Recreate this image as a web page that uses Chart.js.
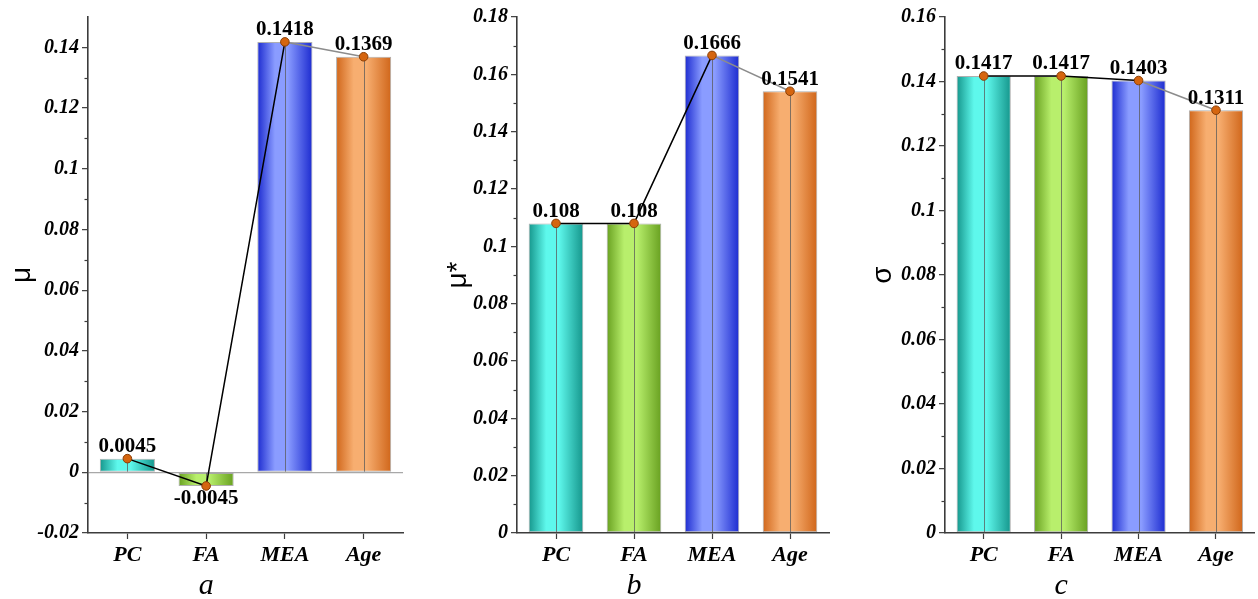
<!DOCTYPE html>
<html>
<head>
<meta charset="utf-8">
<script src="https://cdn.jsdelivr.net/npm/chart.js@4.4.1/dist/chart.umd.min.js"></script>
<style>
  html, body { margin:0; padding:0; background:#fff; overflow:hidden; width:1258px; height:599px; }
  .panel { position:absolute; top:0; width:420px; height:599px; }
  .panel canvas { display:block; }
</style>
</head>
<body>
<div class="panel" style="left:0px"><canvas id="ca" width="420" height="599"></canvas></div>
<div class="panel" style="left:420px"><canvas id="cb" width="420" height="599"></canvas></div>
<div class="panel" style="left:840px"><canvas id="cc" width="420" height="599"></canvas></div>
<script>
// ---------- data ----------
const categories = ['PC', 'FA', 'MEA', 'Age'];
const muValues = [0.0045, -0.0045, 0.1418, 0.1369];
const muStarValues = [0.108, 0.108, 0.1666, 0.1541];
const sigmaValues = [0.1417, 0.1417, 0.1403, 0.1311];
const muRange = [-0.02, 0.15];
const muStarRange = [0, 0.18];
const sigmaRange = [0, 0.16];
const tickStep = 0.02;
const panelLetters = ['a', 'b', 'c'];
const axisTitles = ['μ', 'μ*', 'σ'];

// ---------- styling ----------
const barDark = ['#15968c', '#68a020', '#1c2bd0', '#d0661a'];
const barLight = ['#5ef8ec', '#b8ef6c', '#8a9cff', '#f7ae70'];
const AXIS = '#3c3c3c';
const BAR_FRAC = 0.7;
const SERIF = '"Liberation Serif", "Times New Roman", serif';

function gradFor(ctx) {
  const chart = ctx.chart, i = ctx.dataIndex;
  const xs = chart.scales && chart.scales.x;
  if (!chart.chartArea || !xs || i === undefined) return barLight[i || 0];
  const cx = xs.getPixelForValue(i);
  const half = xs.width / categories.length * BAR_FRAC / 2;
  const g = chart.ctx.createLinearGradient(cx - half, 0, cx + half, 0);
  g.addColorStop(0, barDark[i]);
  g.addColorStop(0.32, barLight[i]);
  g.addColorStop(0.55, barLight[i]);
  g.addColorStop(1, barDark[i]);
  return g;
}

const decoPlugin = {
  id: 'deco',
  afterDatasetDraw(chart, args) {
    if (args.index !== 0) return;
    const c = chart.ctx;
    const meta = chart.getDatasetMeta(0);
    c.save();
    c.strokeStyle = 'rgba(90,90,90,0.75)';
    c.lineWidth = 1;
    meta.data.forEach(el => {
      const x = Math.round(el.x) + 0.5;
      c.beginPath();
      c.moveTo(x, el.y);
      c.lineTo(x, el.base);
      c.stroke();
    });
    c.restore();
  },
  afterDraw(chart, args, opts) {
    const c = chart.ctx;
    // minor ticks on y axis
    const ys = chart.scales.y;
    const ticks = ys.ticks.map(t => t.value);
    c.save();
    c.strokeStyle = AXIS;
    c.lineWidth = 1.2;
    for (let k = 0; k < ticks.length - 1; k++) {
      const py = Math.round(ys.getPixelForValue((ticks[k] + ticks[k + 1]) / 2)) + 0.5;
      c.beginPath();
      c.moveTo(ys.right, py);
      c.lineTo(ys.right - 3.5, py);
      c.stroke();
    }
    c.restore();
    // value labels
    const meta = chart.getDatasetMeta(1);
    const vals = chart.data.datasets[1].data;
    c.save();
    c.font = 'bold 21px ' + SERIF;
    c.fillStyle = '#000';
    c.textAlign = 'center';
    c.textBaseline = 'middle';
    meta.data.forEach((pt, i) => {
      const v = vals[i];
      const dy = v < 0 ? 13 : -12;
      c.fillText(String(v), pt.x, pt.y + dy);
    });
    // panel letter under the second category
    const xs = chart.scales.x;
    c.font = 'italic 30px ' + SERIF;
    c.textBaseline = 'middle';
    c.fillText(opts.letter, xs.getPixelForValue(1), 586);
    c.restore();
  }
};

function makePanel(canvasId, values, range, yTitle, letter, yWidth, padRight, yTitlePad) {
  new Chart(document.getElementById(canvasId), {
    type: 'bar',
    data: {
      labels: categories,
      datasets: [
        {
          type: 'bar',
          data: values,
          order: 2,
          backgroundColor: gradFor,
          borderColor: 'rgba(110,110,110,0.55)',
          borderWidth: 1,
          borderSkipped: false,
          barPercentage: BAR_FRAC,
          categoryPercentage: 1
        },
        {
          type: 'line',
          data: values,
          order: 1,
          borderColor: '#000',
          borderWidth: 1.5,
          segment: {
            borderColor: ctx => ctx.p1DataIndex === categories.length - 1 ? '#8c8c8c' : '#000'
          },
          pointRadius: 4.3,
          pointBackgroundColor: '#d5650f',
          pointBorderColor: '#8a3e05',
          pointBorderWidth: 1,
          tension: 0,
          fill: false
        }
      ]
    },
    options: {
      responsive: false,
      animation: false,
      events: [],
      layout: { padding: { left: 0, right: padRight, top: 17, bottom: 0 } },
      plugins: { legend: { display: false }, tooltip: { enabled: false }, deco: { letter: letter } },
      scales: {
        x: {
          offset: true,
          afterFit: s => { s.height = 66; },
          grid: { display: true, offset: false, drawOnChartArea: false, drawTicks: true, tickLength: 6, tickColor: AXIS, tickWidth: 1.2 },
          border: { display: true, color: AXIS, width: 1.6 },
          ticks: {
            color: '#000', padding: 3,
            font: { family: SERIF, size: 22, style: 'italic', weight: 'bold' }
          }
        },
        y: {
          min: range[0], max: range[1],
          afterFit: s => { s.width = yWidth; },
          grid: {
            display: true, drawOnChartArea: true, drawTicks: true, tickLength: 6,
            color: ctx => (ctx.tick && Math.abs(ctx.tick.value) < 1e-9 && range[0] < 0) ? '#a8a8a8' : 'rgba(0,0,0,0)',
            lineWidth: 1.3,
            tickColor: AXIS, tickWidth: 1.2
          },
          border: { display: true, color: AXIS, width: 1.6 },
          ticks: {
            stepSize: tickStep, includeBounds: false, color: '#000', padding: 3,
            callback: v => String(Number(Number(v).toFixed(4))),
            font: { family: SERIF, size: 20, style: 'italic', weight: 'bold' }
          },
          title: {
            display: true, text: yTitle, color: '#000',
            padding: { top: yTitlePad, bottom: 0 },
            font: { family: '"Liberation Sans", Arial, sans-serif', size: 28, lineHeight: 1 }
          }
        }
      }
    },
    plugins: [decoPlugin]
  });
}

makePanel('ca', muValues, muRange, axisTitles[0], panelLetters[0], 88, 17, 8);
makePanel('cb', muStarValues, muStarRange, axisTitles[1], panelLetters[1], 97, 11, 24);
makePanel('cc', sigmaValues, sigmaRange, axisTitles[2], panelLetters[2], 105, 0, 29);
</script>
</body>
</html>
